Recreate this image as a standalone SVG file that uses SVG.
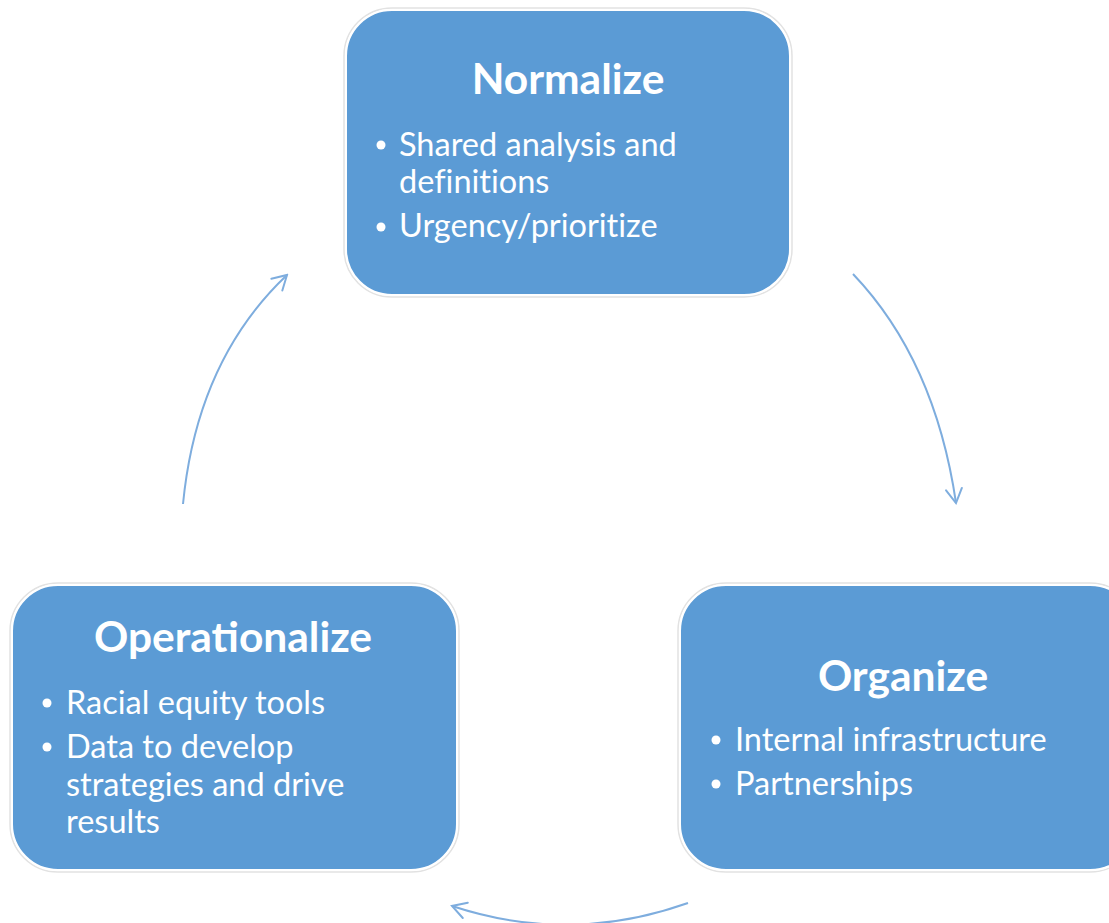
<svg xmlns="http://www.w3.org/2000/svg" width="1109" height="923" viewBox="0 0 1109 923">
  <style>
    .box { fill: #5B9BD5; stroke: #ffffff; stroke-width: 2; }
    .halo { fill: none; stroke: #e2e2e2; stroke-width: 1.5; }
    .title { font-family: Lato, "Open Sans", sans-serif; font-weight: bold; font-size: 42.5px; fill: #ffffff; text-anchor: middle; }
    .item { font-family: Lato, "Open Sans", sans-serif; font-size: 32.5px; fill: #ffffff; font-variant-ligatures: none; }
    .link { fill: none; stroke: #7EADDE; stroke-width: 2; marker-end: url(#head); }
  </style>
  <defs>
    <marker id="head" viewBox="0 0 20 20" refX="18" refY="10" markerWidth="20" markerHeight="20" markerUnits="userSpaceOnUse" orient="auto">
      <path d="M4 2 L18 10 L4 18" fill="none" stroke="#7EADDE" stroke-width="2" stroke-linecap="round"/>
    </marker>
  </defs>
  <rect width="1109" height="923" fill="#ffffff"/>

  <g id="connectors">
    <path class="link" d="M853 274 Q935 360 956 503"/>
    <path class="link" d="M688 903 Q570 945 452 906"/>
    <path class="link" d="M183 504 Q197 360 287 275"/>
  </g>

  <g id="normalize">
    <rect class="halo" x="344" y="8" width="448" height="289" rx="48"/>
    <rect class="box" x="346" y="10" width="444" height="285" rx="46"/>
    <text class="title" x="568" y="94">Normalize</text>
    <circle cx="381" cy="145" r="4.5" fill="#fff"/>
    <text class="item" x="399" y="156">Shared analysis and</text>
    <text class="item" x="399" y="193">definitions</text>
    <circle cx="381" cy="227" r="4.5" fill="#fff"/>
    <text class="item" x="399" y="237">Urgency/prioritize</text>
  </g>

  <g id="operationalize">
    <rect class="halo" x="10" y="583" width="449" height="289" rx="48"/>
    <rect class="box" x="12" y="585" width="445" height="285" rx="46"/>
    <text class="title" x="233" y="652">Operationalize</text>
    <circle cx="47" cy="703" r="4.5" fill="#fff"/>
    <text class="item" x="66" y="714">Racial equity tools</text>
    <circle cx="47" cy="747" r="4.5" fill="#fff"/>
    <text class="item" x="66" y="758">Data to develop</text>
    <text class="item" x="66" y="796">strategies and drive</text>
    <text class="item" x="66" y="833">results</text>
  </g>

  <g id="organize">
    <rect class="halo" x="678" y="583" width="460" height="289" rx="48"/>
    <rect class="box" x="680" y="585" width="456" height="285" rx="46"/>
    <text class="title" x="903" y="691">Organize</text>
    <circle cx="716" cy="740" r="4.5" fill="#fff"/>
    <text class="item" x="735" y="751">Internal infrastructure</text>
    <circle cx="716" cy="784" r="4.5" fill="#fff"/>
    <text class="item" x="735" y="795">Partnerships</text>
  </g>
</svg>
